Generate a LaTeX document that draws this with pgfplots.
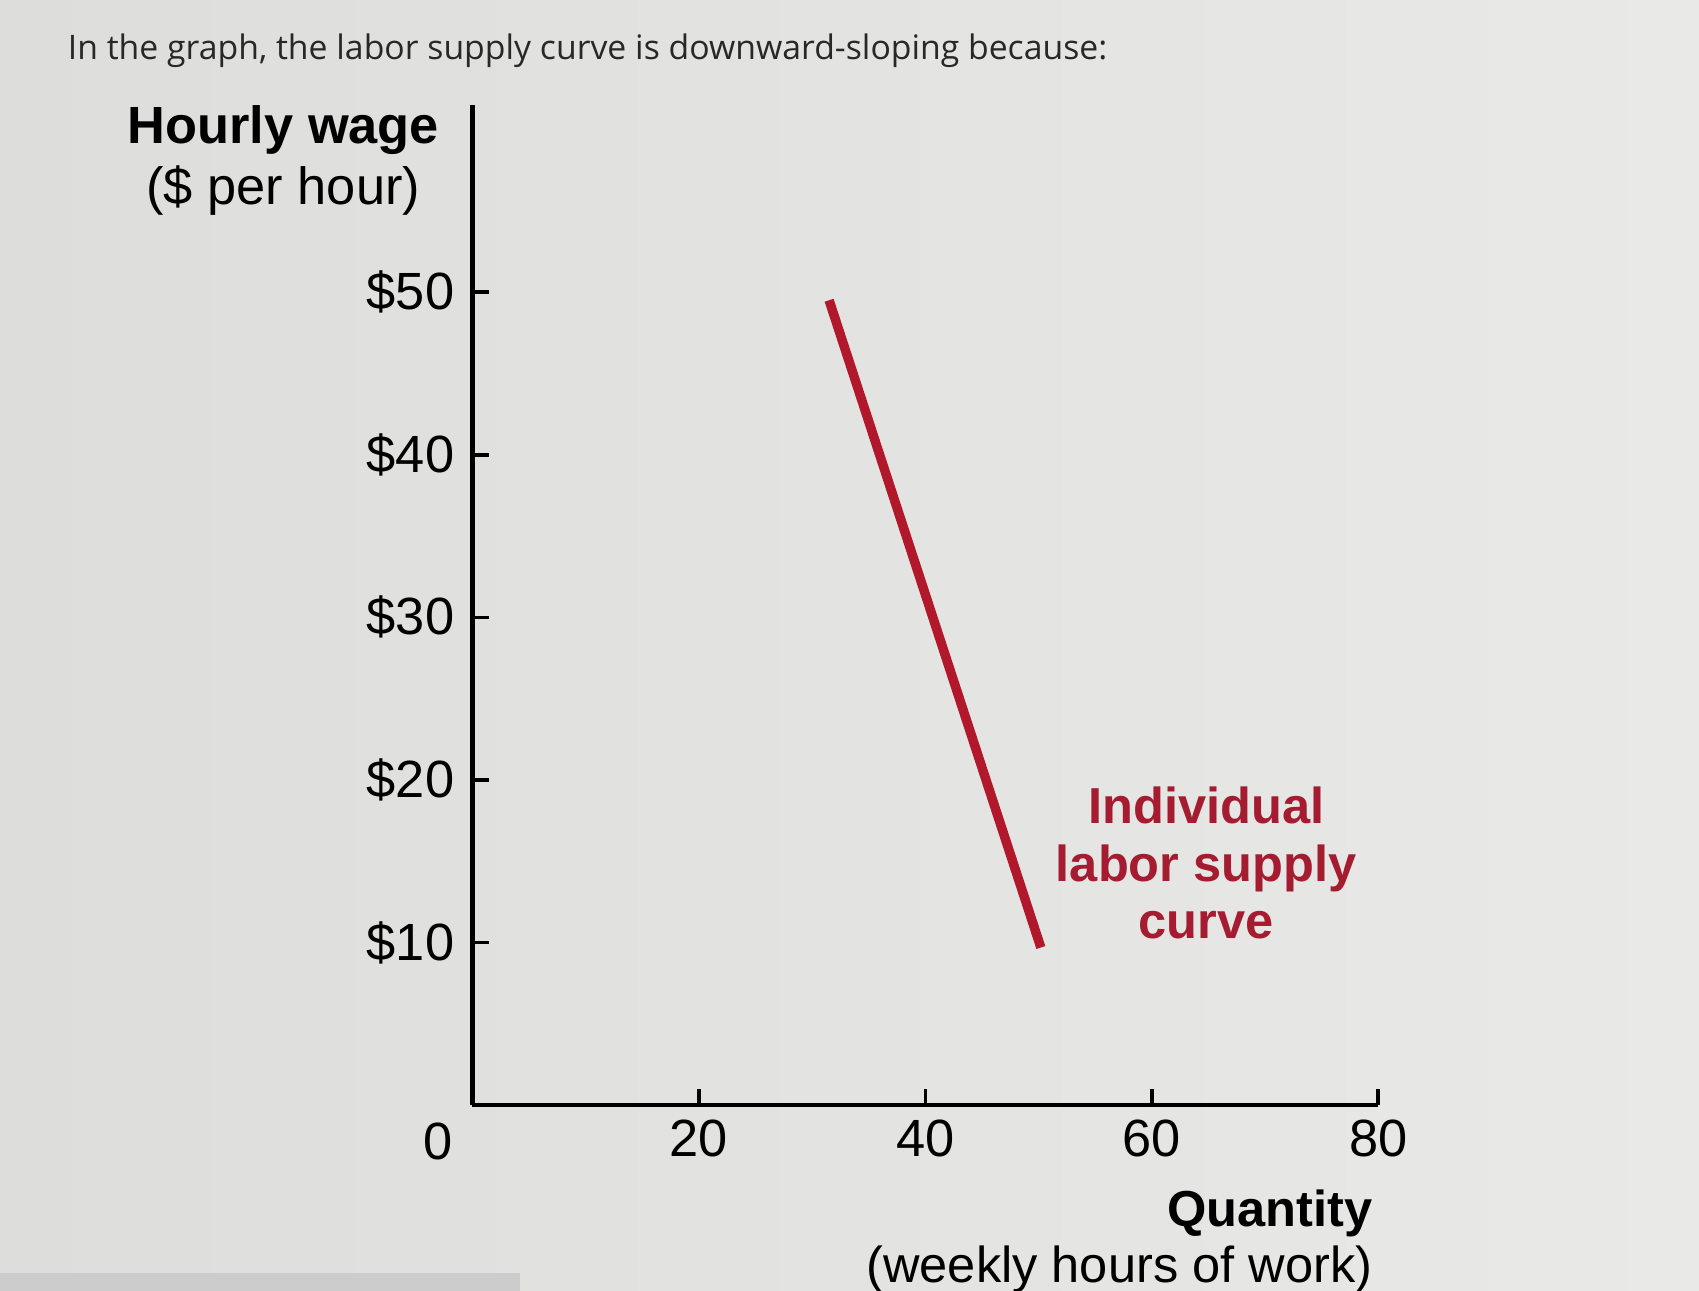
\documentclass[border=0pt]{standalone}
\usepackage{fontspec}
\setmainfont{Liberation Sans}
\newfontfamily\titlefont{Open Sans}
\usepackage{pgfplots}
\pgfplotsset{compat=1.18}

\definecolor{bgl}{RGB}{221,221,219}
\definecolor{bgr}{RGB}{233,233,231}
\definecolor{supply}{RGB}{178,24,44}
\definecolor{supplytext}{RGB}{165,28,48}
\definecolor{titlegray}{RGB}{40,40,40}

\begin{document}
\begin{tikzpicture}
% photo background (1 px = 0.3pt)
\shade[left color=bgl, right color=bgr] (0,0) rectangle (470.4pt,357.3pt);
\useasboundingbox (0,0) rectangle (470.4pt,357.3pt);
\fill[black!20] (0,0) rectangle (144pt,4.8pt);

\node[anchor=west, font=\titlefont\fontsize{9.35}{11}\selectfont, text=titlegray, inner sep=0pt]
  at (18.6pt,343.2pt) {In the graph, the labor supply curve is downward-sloping because:};

\begin{axis}[
  at={(130.8pt,51.3pt)}, anchor=south west,
  scale only axis,
  width=250.8pt, height=276.9pt,
  xmin=0, xmax=80, ymin=0, ymax=61.5,
  axis x line=bottom, axis y line=left,
  axis line style={-, line width=1.2pt},
  every tick/.style={black, line width=1pt},
  tick align=inside,
  major tick length=4.5pt,
  xtick={20,40,60,80},
  ytick={10,20,30,40,50},
  yticklabels={\$10,\$20,\$30,\$40,\$50},
  /pgf/number format/assume math mode=true,
  ticklabel style={font=\fontsize{14.5}{16}\selectfont},
  y tick label style={xshift=-1.5pt},
  x tick label style={yshift=-0.5pt},
  clip=false,
]
  % individual labor supply curve
  \addplot[supply, line width=2.6pt, line cap=butt] coordinates {(31.5,49.5) (50.2,9.7)};

  \node[font=\fontsize{14.5}{16}\selectfont] at (axis cs:-3.0,-2.2) {0};

  \node[align=center, font=\fontsize{14.5}{17}\selectfont]
    at (axis cs:-16.7,58.1) {\textbf{Hourly wage}\\(\$ per hour)};

  \node[align=right, anchor=east, font=\fontsize{14}{15.5}\selectfont]
    at (axis cs:80.6,-8.4) {\textbf{Quantity}\\(weekly hours of work)};

  \node[align=center, text=supplytext, font=\bfseries\fontsize{14}{15.8}\selectfont]
    at (axis cs:64.8,14.9) {Individual\\labor supply\\curve};
\end{axis}
\end{tikzpicture}
\end{document}
